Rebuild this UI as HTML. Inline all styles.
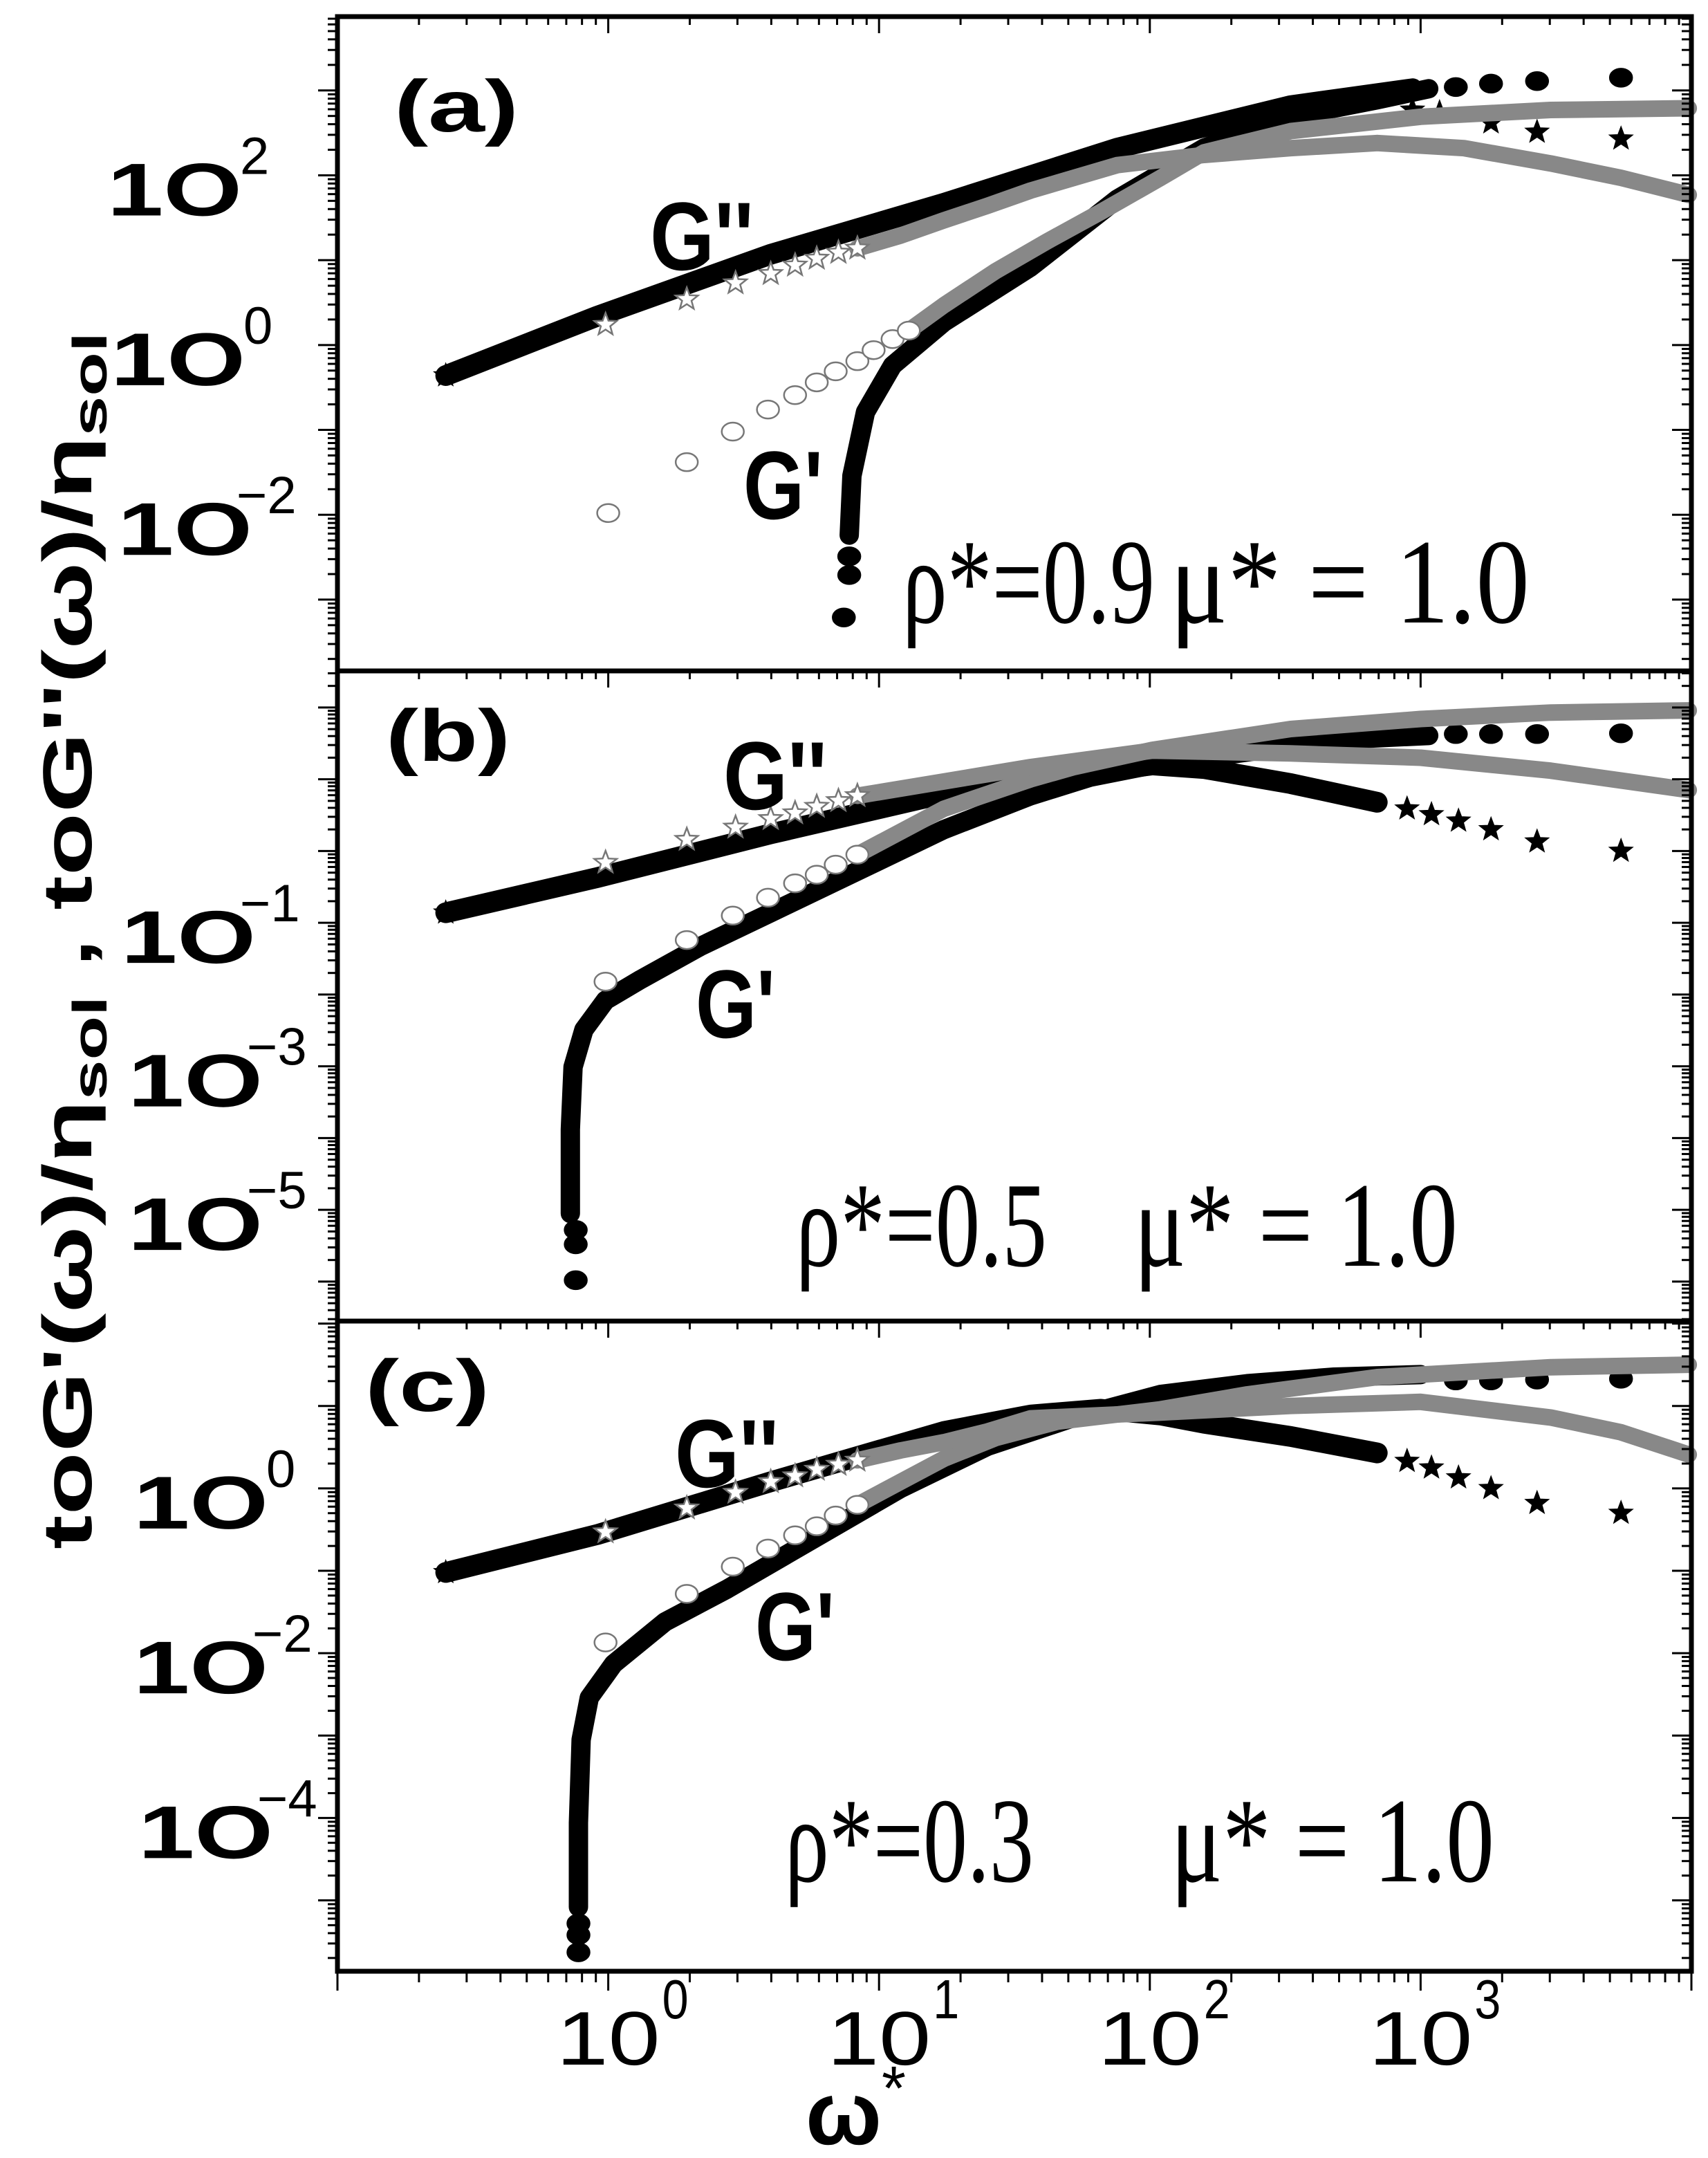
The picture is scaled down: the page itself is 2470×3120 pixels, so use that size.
<!DOCTYPE html>
<html><head><meta charset="utf-8"><style>
html,body{margin:0;padding:0;background:#fff}
svg{display:block}
</style></head><body>
<svg id="chart" xmlns="http://www.w3.org/2000/svg" width="2470" height="3120" viewBox="0 0 2470 3120">
<rect width="2470" height="3120" fill="#fff"/>
<g id="marks"></g>
<g id="axes"></g>
<g id="labels"></g>
<text x="1165" y="3100" font-family="Liberation Sans, sans-serif" font-weight="bold" font-size="130" textLength="110" lengthAdjust="spacingAndGlyphs">ω</text>
<text x="1275" y="3050" font-family="Liberation Sans, sans-serif" font-size="90">*</text>
<text transform="translate(132,2240) rotate(-90)" x="0" y="0" font-family="Liberation Sans, sans-serif" font-weight="bold" font-size="100" textLength="1760" lengthAdjust="spacingAndGlyphs">toG'(ω)/η<tspan font-size="70" dy="22">sol</tspan><tspan dy="-22"> ,  toG''(ω)/η</tspan><tspan font-size="70" dy="22">sol</tspan></text>
</svg>
<script>
// ---- data (log10 omega*, log10 modulus) ----
const aGppBlackW=[-0.60,-0.04,0.60,1.24,1.88,2.52,2.97];
const aGppBlackV=[-0.36,0.34,1.07,1.67,2.32,2.82,3.02];
const aGppStarW=[2.97,3.07,3.26,3.43,3.74];
const aGppStarV=[2.77,2.74,2.62,2.51,2.43];
const aGpBlackW=[0.89,0.90,0.95,1.05,1.24,1.56,1.88,2.2,2.52,2.84,3.03];
const aGpBlackV=[-2.24,-1.54,-0.79,-0.24,0.27,0.92,1.72,2.32,2.69,2.89,3.02];
const aGpDotW=[0.87,0.89,0.89,3.13,3.26,3.43,3.74];
const aGpDotV=[-3.21,-2.71,-2.49,3.04,3.08,3.11,3.15];
const aGpOpenW=[0,0.29,0.46,0.59,0.69,0.77,0.84,0.92,0.98,1.05,1.11];
const aGpOpenV=[-1.98,-1.38,-1.02,-0.76,-0.59,-0.44,-0.31,-0.19,-0.06,0.07,0.17];
const aGpGrayW=[1.11,1.24,1.43,1.62,1.82,2.04,2.2,2.52,3.0,3.48,3.99];
const aGpGrayV=[0.17,0.47,0.87,1.22,1.57,1.97,2.27,2.52,2.69,2.77,2.79];
const aGppOpenW=[-0.01,0.29,0.47,0.60,0.69,0.77,0.85,0.92];
const aGppOpenV=[0.24,0.54,0.73,0.84,0.94,1.02,1.09,1.14];
const aGppGrayW=[0.92,1.08,1.24,1.40,1.56,1.88,2.2,2.52,2.84,3.16,3.48,3.74,3.99];
const aGppGrayV=[1.14,1.29,1.47,1.64,1.82,2.12,2.24,2.32,2.38,2.32,2.14,1.97,1.77];

const bGppBlackW=[-0.60,-0.04,0.60,1.24,1.72,2.01,2.2,2.52,2.84];
const bGppBlackV=[-0.86,-0.37,0.24,0.80,1.06,1.20,1.15,0.94,0.68];
const bGppStarW=[2.95,3.04,3.14,3.26,3.43,3.74];
const bGppStarV=[0.59,0.51,0.42,0.30,0.13,0.0];
const bGpBlackW=[-0.14,-0.14,-0.13,-0.09,-0.01,0.12,0.34,0.60,0.92,1.24,1.56,1.78,2.01,2.36,2.68,3.03];
const bGpBlackV=[-5.05,-3.88,-3.01,-2.49,-2.08,-1.79,-1.33,-0.86,-0.28,0.30,0.77,1.03,1.20,1.38,1.55,1.61];
const bGpDotW=[-0.12,-0.12,-0.12,3.13,3.26,3.43,3.74];
const bGpDotV=[-5.98,-5.48,-5.28,1.63,1.63,1.63,1.64];
const bGpOpenW=[-0.01,0.29,0.46,0.59,0.69,0.77,0.84,0.92];
const bGpOpenV=[-1.82,-1.24,-0.90,-0.65,-0.45,-0.33,-0.19,-0.05];
const bGpGrayW=[0.92,1.24,1.56,1.72,2.01,2.52,3.0,3.48,3.99];
const bGpGrayV=[-0.05,0.59,1.0,1.17,1.41,1.70,1.84,1.93,1.96];
const bGppOpenW=[-0.01,0.29,0.47,0.60,0.69,0.77,0.85,0.92];
const bGppOpenV=[-0.16,0.16,0.33,0.45,0.53,0.62,0.70,0.77];
const bGppGrayW=[0.92,1.24,1.56,2.01,2.52,3.0,3.48,3.99];
const bGppGrayV=[0.77,0.97,1.17,1.40,1.36,1.30,1.12,0.85];

const cGppBlackW=[-0.60,-0.04,0.60,1.24,1.56,1.82,2.04,2.2,2.52,2.84];
const cGppBlackV=[-1.02,-0.56,0.08,0.69,0.89,0.96,0.89,0.79,0.63,0.43];
const cGppStarW=[2.95,3.04,3.14,3.26,3.43,3.74];
const cGppStarV=[0.33,0.25,0.13,0.0,-0.18,-0.30];
const cGpBlackW=[-0.11,-0.11,-0.10,-0.07,0.02,0.21,0.44,0.76,1.08,1.40,1.72,2.04,2.36,2.68,3.0];
const cGpBlackV=[-5.08,-4.06,-3.05,-2.54,-2.13,-1.62,-1.22,-0.61,0,0.51,0.86,1.14,1.27,1.35,1.38];
const cGpDotW=[-0.11,-0.11,-0.11,3.13,3.26,3.43,3.74];
const cGpDotV=[-5.63,-5.42,-5.28,1.31,1.31,1.32,1.33];
const cGpOpenW=[-0.01,0.29,0.46,0.59,0.69,0.77,0.84,0.92];
const cGpOpenV=[-1.87,-1.28,-0.95,-0.73,-0.57,-0.46,-0.33,-0.20];
const cGpGrayW=[0.92,1.08,1.24,1.43,1.66,2.04,2.36,2.84,3.48,3.99];
const cGpGrayV=[-0.20,0.08,0.36,0.61,0.81,0.96,1.14,1.35,1.47,1.50];
const cGppOpenW=[-0.01,0.29,0.47,0.60,0.69,0.77,0.85,0.92];
const cGppOpenV=[-0.53,-0.24,-0.05,0.08,0.15,0.23,0.29,0.34];
const cGppGrayW=[0.92,1.08,1.24,1.40,1.56,2.04,2.52,3.0,3.48,3.74,3.99];
const cGppGrayV=[0.34,0.46,0.56,0.69,0.85,0.92,1.0,1.05,0.86,0.68,0.41];

const xTickExps=[0,1,2,3];
const aTickExps=[2,0,-2];
const bTickExps=[-1,-3,-5];
const cTickExps=[0,-2,-4];
const panelNames=["(a)","(b)","(c)"];
const rhoTexts=["ρ*=0.9","ρ*=0.5","ρ*=0.3"];
const muText="μ* = 1.0";

// ---- geometry ----
const NS="http://www.w3.org/2000/svg";
const X0=488,X1=2446,LX0=-1,LX1=4;
function xs(l){return X0+(l-LX0)/(LX1-LX0)*(X1-X0);}
const panels=[
 {id:"a",top:24,bot:970,ltop:3.87,lbot:-3.84,ticks:aTickExps,lx:[155,160,170]},
 {id:"b",top:970,bot:1910,ltop:2.51,lbot:-6.55,ticks:bTickExps,lx:[175,185,185]},
 {id:"c",top:1910,bot:2850,ltop:2.03,lbot:-5.86,ticks:cTickExps,lx:[193,193,200]}
];
function ys(p,l){return p.top+(p.ltop-l)/(p.ltop-p.lbot)*(p.bot-p.top);}
function mk(tag,attrs,parent){const e=document.createElementNS(NS,tag);for(const k in attrs)e.setAttribute(k,attrs[k]);parent.appendChild(e);return e;}
const marks=document.getElementById('marks'),axes=document.getElementById('axes'),labels=document.getElementById('labels');

function pts(p,W,V){return W.map((w,i)=>xs(w).toFixed(1)+","+ys(p,V[i]).toFixed(1)).join(" ");}
function band(p,W,V,color,width,name){
 const e=mk('polyline',{points:pts(p,W,V),fill:'none',stroke:color,'stroke-width':width,'stroke-linecap':'round','stroke-linejoin':'round'},marks);
 
 
}
function starPath(cx,cy,r){let d="";for(let i=0;i<10;i++){const a=-Math.PI/2+i*Math.PI/5;const rr=i%2?r*0.42:r;d+=(i?"L":"M")+(cx+rr*Math.cos(a)).toFixed(1)+","+(cy+rr*Math.sin(a)).toFixed(1);}return d+"Z";}
function stars(p,W,V,fill,stroke,r,name){
 W.forEach((w,i)=>{const e=mk('path',{d:starPath(xs(w),ys(p,V[i]),r),fill:fill,stroke:stroke,'stroke-width':2.5},marks);
 
 });
}
function dots(p,W,V,fill,stroke,rx,ry,name){
 W.forEach((w,i)=>{const e=mk('ellipse',{cx:xs(w),cy:ys(p,V[i]),rx:rx,ry:ry,fill:fill,stroke:stroke,'stroke-width':2.5},marks);
 
 });
}
const series={
 a:{gppB:[aGppBlackW,aGppBlackV],gppS:[aGppStarW,aGppStarV],gpB:[aGpBlackW,aGpBlackV],gpD:[aGpDotW,aGpDotV],gpO:[aGpOpenW,aGpOpenV],gpG:[aGpGrayW,aGpGrayV],gppO:[aGppOpenW,aGppOpenV],gppG:[aGppGrayW,aGppGrayV]},
 b:{gppB:[bGppBlackW,bGppBlackV],gppS:[bGppStarW,bGppStarV],gpB:[bGpBlackW,bGpBlackV],gpD:[bGpDotW,bGpDotV],gpO:[bGpOpenW,bGpOpenV],gpG:[bGpGrayW,bGpGrayV],gppO:[bGppOpenW,bGppOpenV],gppG:[bGppGrayW,bGppGrayV]},
 c:{gppB:[cGppBlackW,cGppBlackV],gppS:[cGppStarW,cGppStarV],gpB:[cGpBlackW,cGpBlackV],gpD:[cGpDotW,cGpDotV],gpO:[cGpOpenW,cGpOpenV],gpG:[cGpGrayW,cGpGrayV],gppO:[cGppOpenW,cGppOpenV],gppG:[cGppGrayW,cGppGrayV]}
};
panels.forEach(p=>{
 const s=series[p.id];
 band(p,s.gppB[0],s.gppB[1],'#000',30,'gpp-black-curve-'+p.id);
 band(p,s.gpB[0],s.gpB[1],'#000',28,'gp-black-curve-'+p.id);
 stars(p,s.gppS[0],s.gppS[1],'#000','#000',16,'gpp-black-star-'+p.id);
 dots(p,s.gpD[0],s.gpD[1],'#000','#000',16,13,'gp-black-dot-'+p.id);
 band(p,s.gpG[0],s.gpG[1],'#888',24,'gp-gray-curve-'+p.id);
 band(p,s.gppG[0],s.gppG[1],'#888',24,'gpp-gray-curve-'+p.id);
 dots(p,s.gpO[0],s.gpO[1],'#fff','#777',16,13,'gp-open-marker-'+p.id);
 stars(p,s.gppO[0],s.gppO[1],'#fff','#777',17,'gpp-open-star-'+p.id);
 stars(p,[s.gppB[0][0]],[s.gppB[1][0]],'#000','#000',16,'gpp-start-star-'+p.id);
});

// ---- axes ----
const minors=[2,3,4,5,6,7,8,9].map(m=>Math.log10(m));
function line(x1,y1,x2,y2,w,name){const e=mk('line',{x1:x1,y1:y1,x2:x2,y2:y2,stroke:'#000','stroke-width':w},axes);
 
 }
panels.forEach((p,pi)=>{
 const lo=Math.floor(p.lbot),hi=Math.ceil(p.ltop);
 for(let d=lo;d<=hi;d++){
  [0].concat(minors).forEach((m,mi)=>{const l=d+m;if(l<p.lbot||l>p.ltop)return;const y=ys(p,l);const len=mi===0?28:14;
   line(X0-len,y,X0,y,3,'y-tick-left');line(X1-len,y,X1,y,3,'y-tick-right');});
 }
 for(let d=-1;d<=4;d++){
  [0].concat(minors).forEach((m,mi)=>{const l=d+m;if(l>4.001)return;const x=xs(l);const len=mi===0?24:12;
   line(x,p.top,x,p.top+len,3,'x-tick-top');
   if(pi===2)line(x,p.bot,x,p.bot+(mi===0?28:16),3,'x-tick-bottom');});
 }
 const fr=mk('rect',{x:X0,y:p.top,width:X1-X0,height:p.bot-p.top,fill:'none',stroke:'#000','stroke-width':7},axes);
 
 
 p.ticks.forEach((e,i)=>{const y=ys(p,e);const x0=p.lx[i];
  const t=mk('text',{x:x0,y:y+58,'font-family':'Liberation Sans, sans-serif','font-weight':'bold','font-size':108,textLength:195,lengthAdjust:'spacingAndGlyphs'},labels);t.textContent='1O';
  
  
  const ex=mk('text',{x:x0+(e<0?172:192),y:y-2,'font-family':'Liberation Sans, sans-serif','font-size':76},labels);ex.textContent=e<0?'−'+(-e):String(e);
  
  
 });
 const pl=mk('text',{x:[570,558,528][pi],y:[190,1100,2040][pi],'font-family':'Liberation Sans, sans-serif','font-weight':'bold','font-size':106,textLength:180,lengthAdjust:'spacingAndGlyphs'},labels);pl.textContent=panelNames[pi];
 
 
 const g2=mk('text',{x:[940,1046,976][pi],y:[390,1170,2150][pi],'font-family':'Liberation Sans, sans-serif','font-weight':'bold','font-size':140,textLength:150,lengthAdjust:'spacingAndGlyphs'},labels);g2.textContent="G''";
 
 
 const g1=mk('text',{x:[1075,1006,1092][pi],y:[750,1500,2400][pi],'font-family':'Liberation Sans, sans-serif','font-weight':'bold','font-size':140,textLength:115,lengthAdjust:'spacingAndGlyphs'},labels);g1.textContent="G'";
 
 
 const rx=[1305,1151,1135][pi],rl=[365,363,360][pi],mxs=[1692,1640,1693][pi],ml=[520,468,468][pi],by=[900,1830,2720][pi];
 const pr=mk('text',{x:rx,y:by,'font-family':'Liberation Serif, serif','font-size':175,textLength:rl,lengthAdjust:'spacingAndGlyphs'},labels);pr.textContent=rhoTexts[pi];
 
 
 const mu=mk('text',{x:mxs,y:by,'font-family':'Liberation Serif, serif','font-size':175,textLength:ml,lengthAdjust:'spacingAndGlyphs'},labels);mu.textContent=muText;
 
 
});
xTickExps.forEach(e=>{const x=xs(e);
 const t=mk('text',{x:x-75,y:2985,'font-family':'Liberation Sans, sans-serif','font-size':110,textLength:150,lengthAdjust:'spacingAndGlyphs'},labels);t.textContent='10';
 
 
 const ex=mk('text',{x:x+78,y:2918,'font-family':'Liberation Sans, sans-serif','font-size':80,textLength:38,lengthAdjust:'spacingAndGlyphs'},labels);ex.textContent=String(e);
 
 
});
</script>
</body></html>
